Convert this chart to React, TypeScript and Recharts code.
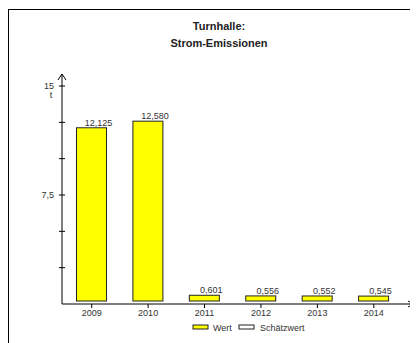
import { BarChart, Bar, XAxis, YAxis, LabelList } from 'recharts'

const YEARS = ['2009', '2010', '2011', '2012', '2013', '2014']
const WERT = [12.125, 12.58, 0.601, 0.556, 0.552, 0.545]
const Y_TICKS = [2.5, 5, 7.5, 10, 12.5, 15]
const Y_TICK_LABELS: Record<number, string> = { 7.5: '7,5', 15: '15' }
const LEGEND_ITEMS = ['Wert', 'Schätzwert']
const TITLE_LINES = ['Turnhalle:', 'Strom-Emissionen']

const FONT = "Arial, 'Liberation Sans', sans-serif"
const TEXT = '#333'
const AXIS_X = 54
const AXIS_Y = 296

const data = YEARS.map((year, i) => ({ year, wert: WERT[i] }))

const fmt = (v: number) => v.toFixed(3).replace('.', ',')

const YTick = ({ y, payload }: any) => {
  const label = Y_TICK_LABELS[payload.value]
  return (
    <g>
      <line x1={AXIS_X - 3} x2={AXIS_X + 3} y1={y} y2={y} stroke="#000" />
      {label && (
        <text x={46} y={y + 3} textAnchor="end" fontSize={9} fill={TEXT} fontFamily={FONT}>
          {label}
        </text>
      )}
      {payload.value === 15 && (
        <text x={43} y={y + 12} textAnchor="middle" fontSize={9} fill={TEXT} fontFamily={FONT}>
          t
        </text>
      )}
    </g>
  )
}

// bars stop a few pixels short of the axis line, like the original
const BarShape = ({ x, y, width, height }: any) => (
  <rect x={x} y={y} width={width} height={Math.max(height - 3, 0)} fill="#FFFF00" stroke="#222" strokeWidth={1} />
)

const ValueLabel = ({ x, y, width, value }: any) => (
  <text x={x + width / 2 + 7} y={y - 2} textAnchor="middle" fontSize={9} fill={TEXT} fontFamily={FONT}>
    {fmt(value)}
  </text>
)

export default function App() {
  return (
    <div style={{ position: 'relative', width: 410, height: 335, fontFamily: FONT }}>
      <div
        style={{
          position: 'absolute', top: 1, left: 0, width: 410, height: 334,
          borderTop: '1px solid #000', borderLeft: '1px solid #000', boxSizing: 'border-box'
        }}
      />
      <BarChart
        width={410}
        height={335}
        data={data}
        margin={{ top: 78, right: 16, bottom: 19, left: 8 }}
        barSize={30}
        style={{ position: 'absolute', top: 0, left: 0 }}
      >
        <XAxis
          dataKey="year"
          axisLine={false}
          tickLine={{ stroke: '#000' }}
          tickSize={4}
          height={20}
          padding={{ left: 1.5, right: 0 }}
          tick={{ fontSize: 9, fill: TEXT, fontFamily: FONT }}
        />
        <YAxis
          width={46}
          domain={[0, 15]}
          ticks={Y_TICKS}
          axisLine={false}
          tickLine={false}
          tick={<YTick />}
        />
        <Bar dataKey="wert" shape={<BarShape />} isAnimationActive={false}>
          <LabelList dataKey="wert" content={<ValueLabel />} />
        </Bar>
      </BarChart>
      <svg width={410} height={335} style={{ position: 'absolute', top: 0, left: 0, pointerEvents: 'none' }}>
        {TITLE_LINES.map((line, i) => (
          <text key={line} x={211} y={21.5 + i * 17} textAnchor="middle" fontSize={11} fontWeight="bold" fill="#222" fontFamily={FONT}>
            {line}
          </text>
        ))}
        <line x1={AXIS_X} y1={AXIS_Y} x2={AXIS_X} y2={66} stroke="#000" />
        <polyline points={`${AXIS_X - 4},72 ${AXIS_X},66 ${AXIS_X + 4},72`} fill="none" stroke="#000" />
        <line x1={AXIS_X} y1={AXIS_Y} x2={405} y2={AXIS_Y} stroke="#000" />
        <polyline points={`400,${AXIS_Y - 3} 405,${AXIS_Y} 400,${AXIS_Y + 3}`} fill="none" stroke="#000" />
        {LEGEND_ITEMS.map((item, i) => (
          <g key={item}>
            <rect x={185 + i * 46} y={317} width={15} height={4} fill={i === 0 ? '#FFFF00' : '#fff'} stroke="#222" />
            <text x={205 + i * 47} y={323} fontSize={9} fill={TEXT} fontFamily={FONT}>
              {item}
            </text>
          </g>
        ))}
      </svg>
    </div>
  )
}
